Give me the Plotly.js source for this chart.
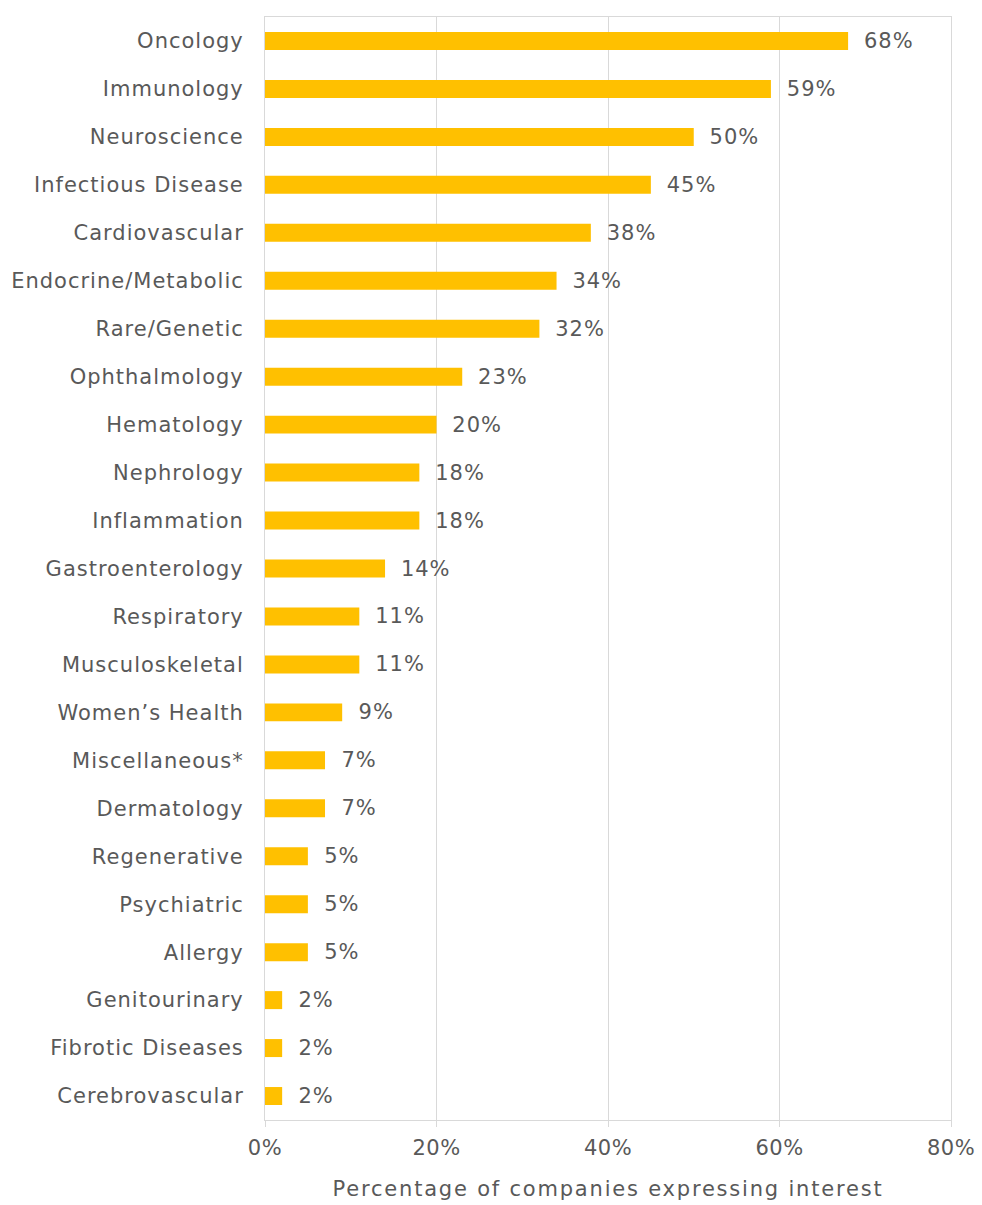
<!DOCTYPE html>
<html><head><meta charset="utf-8">
<script src="https://cdn.plot.ly/plotly-3.0.1.min.js"></script>
<style>
body{margin:0;background:#fff}
#chart .ytick text{letter-spacing:1px}
#chart text.bartext{letter-spacing:1px}
#chart .xtick text{letter-spacing:0.5px}
#chart text.xtitle{letter-spacing:1.8px}
</style>
</head><body>
<div id="chart" style="width:982px;height:1205px"></div>
<script>
const categories = ["Oncology","Immunology","Neuroscience","Infectious Disease","Cardiovascular","Endocrine/Metabolic","Rare/Genetic","Ophthalmology","Hematology","Nephrology","Inflammation","Gastroenterology","Respiratory","Musculoskeletal","Women\u2019s Health","Miscellaneous*","Dermatology","Regenerative","Psychiatric","Allergy","Genitourinary","Fibrotic Diseases","Cerebrovascular"];
const values = [68,59,50,45,38,34,32,23,20,18,18,14,11,11,9,7,7,5,5,5,2,2,2];
const tickVals = [0,20,40,60,80];
const tickText = ["0%","20%","40%","60%","80%"];

const font = "'DejaVu Sans', Verdana, sans-serif";
const fs = 21;
Plotly.newPlot('chart', [{
  type: 'bar', orientation: 'h',
  x: values, y: categories,
  marker: {color: '#FFC000'},
  width: 0.375,
  text: values.map(v => '\u00a0\u00a0' + v + '%'),
  textposition: 'outside',
  constraintext: 'none',
  cliponaxis: false,
  textfont: {family: font, size: fs, color: '#595959'},
  hoverinfo: 'none'
}], {
  width: 982, height: 1205,
  margin: {l: 265, r: 31, t: 17, b: 85},
  paper_bgcolor: '#fff', plot_bgcolor: '#fff',
  showlegend: false,
  font: {family: font, color: '#595959', size: fs},
  xaxis: {
    range: [0, 80], tickvals: tickVals, ticktext: tickText,
    showgrid: true, gridcolor: '#d9d9d9', gridwidth: 1,
    zeroline: false, showline: true, linecolor: '#d9d9d9', mirror: true,
    ticks: 'outside', ticklen: 6, tickcolor: '#d9d9d9',
    ticklabelstandoff: 3,
    tickfont: {family: font, size: fs, color: '#595959'},
    title: {text: 'Percentage of companies expressing interest', font: {family: font, size: fs, color: '#595959'}, standoff: 22}
  },
  yaxis: {
    type: 'category', autorange: 'reversed',
    showgrid: false, zeroline: false, showline: true, linecolor: '#d9d9d9', mirror: true,
    ticks: '', ticklabelstandoff: 16,
    tickfont: {family: font, size: fs, color: '#595959'}
  }
}, {displayModeBar: false, staticPlot: true});
</script>
</body></html>
